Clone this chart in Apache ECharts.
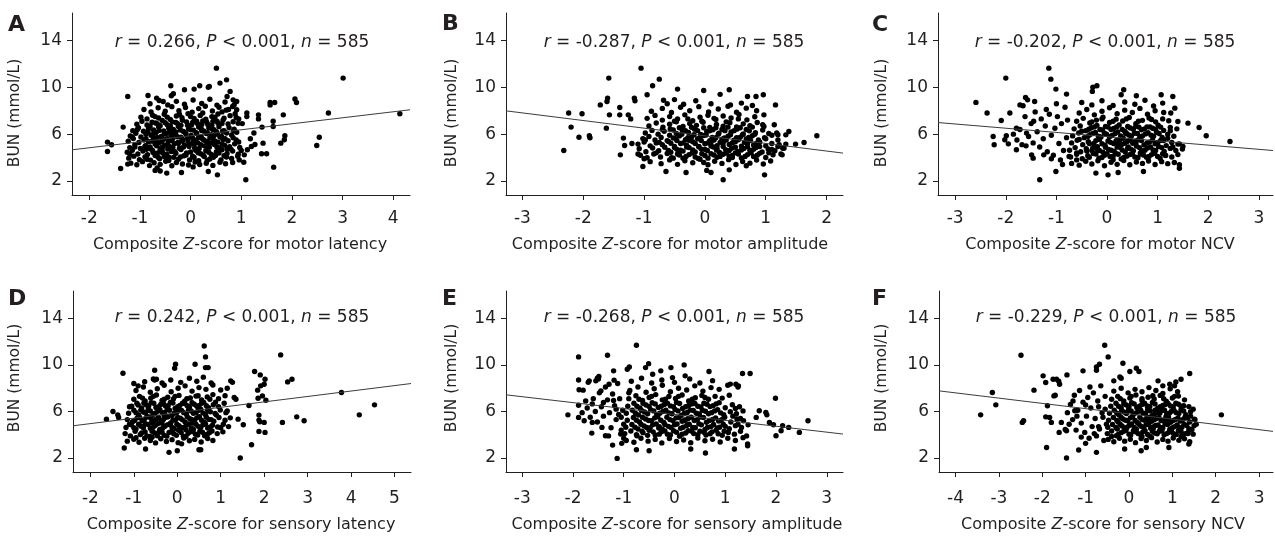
<!DOCTYPE html>
<html><head><meta charset="utf-8">
<script src="https://cdn.jsdelivr.net/npm/echarts@6/dist/echarts.min.js"></script>
<style>html,body{margin:0;padding:0;background:#fff}#c{width:1275px;height:538px}</style>
</head><body><div id="c"></div><script>
const FONT = "'DejaVu Sans',sans-serif";
const INK = '#231f20';

const panelLetters = ['A','B','C','D','E','F'];
const xTitleTail = ['motor latency','motor amplitude','motor NCV','sensory latency','sensory amplitude','sensory NCV'];
const rValues = ['0.266','-0.287','-0.202','0.242','-0.268','-0.229'];
const pText = '< 0.001';
const nValue = '585';
const yTitle = 'BUN (mmol/L)';
const yTicks = [2,6,10,14];
const xTicksA = [-2,-1,0,1,2,3,4];
const xTicksB = [-3,-2,-1,0,1,2];
const xTicksC = [-3,-2,-1,0,1,2,3];
const xTicksD = [-2,-1,0,1,2,3,4,5];
const xTicksE = [-3,-2,-1,0,1,2,3];
const xTicksF = [-4,-3,-2,-1,0,1,2,3];

// regression line end points (x, BUN)
const fitA = [[-2.34,4.66],[4.33,8.08]];
const fitB = [[-3.27,7.99],[2.27,4.38]];
const fitC = [[-3.34,6.99],[3.28,4.6]];
const fitD = [[-2.4,4.77],[5.38,8.4]];
const fitE = [[-3.32,7.43],[3.32,4.06]];
const fitF = [[-4.38,7.77],[3.32,4.29]];

const ptsA = [
[-1.64,5.32],[-1.64,4.52],[-1.56,5.09],[-1.33,6.6],[-1.38,3.07],[-1.24,3.44],[-1.24,9.22],[-0.84,9.3],[0.51,11.64],[0.35,10.0],[0.37,10.08],[0.71,10.64],[-0.39,10.13],[-0.12,9.79],[0.07,9.85],[1.09,2.1],[0.53,2.52],[0.35,2.81],[-0.18,2.72],[-0.47,2.67],[-0.7,2.9],[-0.6,2.85],[1.57,8.7],[1.57,8.5],[1.66,8.7],[1.34,7.65],[1.34,7.3],[1.11,7.8],[1.11,7.5],[1.83,7.65],[1.63,7.1],[1.63,6.65],[1.41,6.6],[1.43,5.23],[1.5,4.32],[1.4,4.32],[1.64,3.18],[1.78,5.23],[1.86,5.86],[1.85,5.52],[2.06,9.0],[2.09,8.7],[2.49,5.03],[2.54,5.74],[2.72,7.8],[3.01,10.79],[4.13,7.74],[1.27,5.12],[1.2,4.95],[1.12,4.66],[1.06,4.23],[0.96,3.8],[0.88,7.74],[0.91,8.08],[0.91,8.79],[0.84,8.93],[0.78,9.65],[0.72,9.22],[0.58,10.36],[0.18,10.13],[-0.67,9.08],[-0.54,8.79],[-0.34,9.45],[-0.38,9.28],[1.18,5.6],[1.25,6.1],[1.02,6.9],[1.05,3.6],
[-1.18,3.52],[-1.06,3.38],[-0.95,3.65],[-0.81,3.31],[-0.72,3.55],[-0.6,3.42],[-0.49,3.68],[-0.37,3.3],[-0.28,3.58],[-0.16,3.45],[-0.04,3.36],[0.09,3.62],[0.18,3.4],[0.31,3.51],[0.44,3.33],[0.58,3.6],[0.69,3.47],[0.83,3.58],[-0.66,3.12],[0.05,3.2],
[-1.22,3.95],[-1.12,4.12],[-1.01,3.82],[-0.9,4.05],[-0.79,3.78],[-0.7,4.18],[-0.61,3.9],[-0.52,4.1],[-0.43,3.75],[-0.33,4.02],[-0.24,3.86],[-0.13,4.15],[-0.02,3.8],[0.07,4.0],[0.16,3.73],[0.27,4.08],[0.38,3.88],[0.49,4.17],[0.6,3.79],[0.71,4.04],[0.81,3.92],[0.93,4.12],[-0.47,3.93],[0.33,3.76],
[-1.25,4.45],[-1.15,4.62],[-1.04,4.3],[-0.94,4.55],[-0.85,4.25],[-0.75,4.6],[-0.66,4.38],[-0.56,4.65],[-0.47,4.28],[-0.38,4.52],[-0.29,4.36],[-0.19,4.68],[-0.09,4.22],[0.0,4.47],[0.1,4.63],[0.2,4.32],[0.3,4.58],[0.41,4.26],[0.51,4.5],[0.62,4.66],[0.72,4.35],[0.83,4.55],[0.94,4.29],[1.0,4.6],[-0.61,4.49],[0.15,4.41],
[-1.2,4.85],[-1.1,5.1],[-0.99,4.78],[-0.89,5.02],[-0.8,4.9],[-0.7,5.16],[-0.6,4.75],[-0.51,5.05],[-0.41,4.92],[-0.32,5.18],[-0.22,4.8],[-0.12,5.08],[-0.03,4.95],[0.07,5.14],[0.17,4.77],[0.27,5.0],[0.37,4.88],[0.47,5.12],[0.57,4.82],[0.67,5.06],[0.77,4.93],[0.87,5.17],[0.97,4.86],[-0.45,4.72],[0.33,5.2],[-0.87,4.7],
[-1.23,5.4],[-1.13,5.62],[-1.02,5.28],[-0.92,5.5],[-0.83,5.35],[-0.73,5.66],[-0.63,5.25],[-0.54,5.55],[-0.44,5.38],[-0.35,5.64],[-0.25,5.3],[-0.15,5.52],[-0.05,5.42],[0.04,5.68],[0.14,5.27],[0.24,5.57],[0.34,5.36],[0.44,5.61],[0.54,5.32],[0.64,5.54],[0.74,5.44],[0.84,5.69],[0.95,5.33],[-0.68,5.46],[0.1,5.48],
[-1.19,5.85],[-1.08,6.08],[-0.98,5.76],[-0.88,6.0],[-0.78,5.9],[-0.68,6.15],[-0.58,5.8],[-0.48,6.05],[-0.39,5.93],[-0.29,6.18],[-0.19,5.74],[-0.09,6.02],[0.01,5.88],[0.11,6.12],[0.21,5.79],[0.31,6.06],[0.41,5.95],[0.51,6.2],[0.61,5.83],[0.71,6.1],[0.81,5.92],[0.91,6.16],[-0.34,5.98],[0.46,5.86],
[-1.14,6.3],[-1.03,6.55],[-0.93,6.25],[-0.83,6.48],[-0.73,6.36],[-0.63,6.62],[-0.53,6.28],[-0.43,6.5],[-0.34,6.4],[-0.24,6.66],[-0.14,6.22],[-0.04,6.45],[0.06,6.34],[0.16,6.6],[0.26,6.27],[0.36,6.52],[0.46,6.38],[0.56,6.64],[0.66,6.3],[0.76,6.56],[0.86,6.42],[0.21,6.47],
[-1.06,6.85],[-0.96,7.1],[-0.86,6.78],[-0.76,7.02],[-0.66,6.9],[-0.56,7.16],[-0.46,6.8],[-0.36,7.05],[-0.26,6.92],[-0.16,7.18],[-0.06,6.75],[0.04,7.0],[0.14,6.88],[0.24,7.12],[0.34,6.82],[0.44,7.08],[0.54,6.95],[0.64,7.2],[0.74,6.86],[0.84,7.06],[0.94,6.92],
[-0.98,7.45],[-0.86,7.3],[-0.75,7.62],[-0.63,7.38],[-0.52,7.7],[-0.4,7.25],[-0.28,7.55],[-0.17,7.4],[-0.05,7.75],[0.07,7.33],[0.19,7.6],[0.3,7.28],[0.42,7.5],[0.54,7.72],[0.66,7.36],[0.78,7.58],[0.9,7.42],
[-0.92,8.1],[-0.78,7.9],[-0.64,8.25],[-0.5,7.95],[-0.37,8.35],[-0.23,8.0],[-0.1,8.28],[0.03,7.88],[0.16,8.18],[0.29,8.38],[0.43,7.98],[0.56,8.3],[0.7,8.05],[0.83,8.36],
[-0.8,8.6],[-0.62,8.88],[-0.45,8.5],[-0.28,8.8],[-0.12,8.55],[0.05,8.92],[0.22,8.62],[0.38,8.98],[0.52,8.48],[0.68,8.75],[0.86,8.52]
];
const denseA = [
[-0.86,3.86],[-0.74,4.44],[-0.64,4.02],[-0.55,4.4],[-0.42,4.0],[-0.31,4.5],[-0.2,4.05],[-0.08,4.4],[0.04,4.12],[0.13,4.55],[0.25,4.2],[0.36,4.45],[0.45,4.02],[0.56,4.38],[0.66,4.15],
[-0.9,4.95],[-0.78,4.72],[-0.67,5.0],[-0.56,4.88],[-0.45,5.12],[-0.35,4.85],[-0.24,5.2],[-0.14,4.9],[-0.02,5.15],[0.08,4.82],[0.2,5.1],[0.32,4.95],[0.42,5.25],[0.52,4.9],[0.62,5.15],[0.72,4.75],
[-0.88,5.6],[-0.77,5.4],[-0.66,5.72],[-0.57,5.35],[-0.46,5.62],[-0.37,5.45],[-0.26,5.78],[-0.17,5.4],[-0.06,5.65],[0.06,5.38],[0.16,5.72],[0.27,5.48],[0.38,5.7],[0.48,5.42],[0.58,5.75],[0.68,5.6],
[-0.84,6.2],[-0.74,5.98],[-0.62,6.32],[-0.52,6.0],[-0.41,6.28],[-0.3,6.05],[-0.2,6.35],[-0.1,6.1],[0.0,6.38],[0.12,6.05],[0.22,6.3],[0.33,6.12],[0.43,6.42],[0.53,6.0],[0.63,6.25],
[-0.8,6.68],[-0.69,6.95],[-0.6,6.72],[-0.5,6.98],[-0.4,6.7],[-0.29,7.0],[-0.19,6.75],[-0.08,7.05],[0.02,6.8],[0.12,7.1],[0.22,6.82],[0.32,7.02],[0.42,6.75],[0.52,7.1],[0.62,6.9],
[-0.7,7.5],[-0.46,7.45],[-0.22,7.7],[0.0,7.5],[0.24,7.8],[0.48,7.45],[0.62,7.9],[0.75,8.1],
[-1.1,4.9],[-1.15,5.75],[-1.05,6.4],[-1.2,4.3],[0.8,4.7],[0.9,5.5],[0.85,6.3],[0.95,7.3]
];

const ptsB = [
[-2.32,4.6],[-2.24,7.8],[-2.2,6.6],[-2.02,7.74],[-2.07,5.74],[-1.9,5.86],[-1.89,5.69],[-1.72,8.5],[-1.61,8.79],[-1.6,9.08],[-1.58,10.79],[-1.57,7.65],[-1.62,6.51],[-1.4,8.28],[-1.4,7.65],[-1.39,4.23],[-1.34,5.66],[-1.32,5.03],[-1.26,7.65],[-1.16,9.08],[-1.15,8.85],[-1.05,11.64],[-0.95,9.36],[-0.86,10.13],[-0.75,10.7],[-1.02,3.24],[-0.64,2.81],[-0.31,2.72],[0.03,2.9],[0.1,2.72],[0.3,2.1],[0.4,2.95],[0.98,2.52],[0.96,9.36],[0.84,9.22],[0.7,9.22],[0.4,9.79],[-0.02,9.73],[-0.45,9.85],[0.97,7.65],[1.14,6.8],[1.16,8.5],[1.33,5.94],[1.38,6.23],[1.49,5.15],[1.63,5.29],[1.84,5.86],[1.27,4.23],[1.2,4.95],[1.3,4.8],[-1.22,7.3],[-1.2,5.2],[-1.1,4.3],[-1.0,3.9],[-0.98,5.5],
[-0.9,3.65],[-0.72,3.48],[-0.58,3.8],[-0.45,3.42],[-0.33,3.72],[-0.2,3.55],[-0.08,3.85],[0.05,3.38],[0.16,3.68],[0.28,3.5],[0.39,3.82],[0.51,3.4],[0.62,3.66],[0.74,3.52],[0.85,3.78],[0.96,3.45],[1.08,3.7],[0.68,3.3],[-0.02,3.58],
[-1.06,4.2],[-0.95,3.98],[-0.84,4.3],[-0.73,4.05],[-0.62,4.35],[-0.52,3.95],[-0.42,4.22],[-0.31,4.1],[-0.21,4.38],[-0.11,3.92],[0.0,4.18],[0.1,4.32],[0.2,4.02],[0.3,4.28],[0.4,4.12],[0.5,4.4],[0.6,3.96],[0.7,4.25],[0.8,4.08],[0.9,4.36],[1.0,4.0],[1.12,4.24],[1.25,4.3],[0.45,4.0],
[-1.08,4.75],[-0.97,4.5],[-0.86,4.82],[-0.76,4.58],[-0.66,4.88],[-0.56,4.45],[-0.46,4.7],[-0.36,4.55],[-0.26,4.85],[-0.16,4.48],[-0.06,4.72],[0.04,4.6],[0.14,4.9],[0.24,4.44],[0.34,4.68],[0.44,4.8],[0.54,4.52],[0.64,4.78],[0.74,4.62],[0.84,4.86],[0.94,4.47],[1.04,4.73],[1.15,4.58],[1.28,4.8],[0.19,4.65],
[-1.1,5.15],[-1.0,5.32],[-0.9,5.0],[-0.8,5.25],[-0.7,5.1],[-0.6,5.38],[-0.5,4.95],[-0.4,5.2],[-0.3,5.05],[-0.2,5.35],[-0.1,4.92],[0.0,5.18],[0.1,5.3],[0.2,5.02],[0.3,5.24],[0.4,5.12],[0.5,5.36],[0.6,4.98],[0.7,5.22],[0.8,5.08],[0.9,5.33],[1.0,5.0],[1.1,5.2],[1.22,5.1],[1.33,5.15],
[-1.02,5.62],[-0.92,5.8],[-0.82,5.5],[-0.72,5.72],[-0.62,5.45],[-0.52,5.68],[-0.42,5.85],[-0.32,5.52],[-0.22,5.76],[-0.12,5.6],[-0.02,5.88],[0.08,5.44],[0.18,5.7],[0.28,5.56],[0.38,5.82],[0.48,5.48],[0.58,5.74],[0.68,5.58],[0.78,5.86],[0.88,5.5],[0.98,5.7],[1.1,5.9],[1.2,5.95],
[-0.98,6.1],[-0.87,6.32],[-0.77,6.0],[-0.67,6.25],[-0.57,6.45],[-0.47,6.05],[-0.37,6.3],[-0.27,6.15],[-0.17,6.42],[-0.07,5.98],[0.03,6.22],[0.13,6.38],[0.23,6.08],[0.33,6.3],[0.43,6.18],[0.53,6.44],[0.63,6.02],[0.73,6.28],[0.83,6.12],[0.95,6.35],[1.05,6.05],[1.18,6.1],
[-0.92,6.7],[-0.8,6.95],[-0.69,6.6],[-0.58,6.85],[-0.47,7.05],[-0.36,6.65],[-0.25,6.9],[-0.14,6.75],[-0.03,7.02],[0.08,6.58],[0.19,6.82],[0.3,6.68],[0.41,6.98],[0.52,6.62],[0.63,6.88],[0.74,6.72],[0.86,7.0],[0.97,6.66],
[-0.95,7.35],[-0.82,7.6],[-0.7,7.2],[-0.58,7.5],[-0.45,7.3],[-0.33,7.65],[-0.2,7.15],[-0.08,7.45],[0.05,7.62],[0.18,7.25],[0.3,7.55],[0.43,7.38],[0.56,7.68],[0.69,7.22],[0.82,7.48],
[-0.88,7.95],[-0.7,8.2],[-0.55,7.85],[-0.4,8.3],[-0.25,8.0],[-0.1,8.35],[0.06,7.9],[0.22,8.15],[0.38,8.38],[0.52,7.88],[0.68,8.22],[0.85,8.0],
[-0.68,8.9],[-0.62,8.6],[-0.35,8.55],[-0.15,8.85],[0.1,8.6],[0.25,9.4],[0.42,8.5],[0.6,8.65],[0.78,8.45],[-0.5,8.95]
];
const denseB = [
[-0.55,3.98],[-0.45,4.3],[-0.36,3.95],[-0.26,4.25],[-0.16,4.05],[-0.05,4.32],[0.05,3.95],[0.15,4.22],[0.25,4.1],[0.35,4.38],[0.45,4.18],[0.55,4.3],[0.66,4.1],[0.76,4.4],[0.86,4.2],
[-0.6,4.6],[-0.5,4.85],[-0.4,4.62],[-0.3,4.9],[-0.2,4.65],[-0.1,4.95],[0.0,4.7],[0.1,4.98],[0.2,4.75],[0.3,4.95],[0.4,4.6],[0.5,4.88],[0.6,4.65],[0.7,4.92],[0.8,4.7],[0.9,4.95],
[-0.56,5.22],[-0.46,5.45],[-0.36,5.25],[-0.26,5.48],[-0.16,5.2],[-0.06,5.45],[0.05,5.25],[0.15,5.5],[0.25,5.3],[0.35,5.5],[0.45,5.25],[0.55,5.52],[0.65,5.3],[0.75,5.48],[0.85,5.22],
[-0.58,5.9],[-0.48,5.62],[-0.38,5.98],[-0.28,5.7],[-0.18,5.95],[-0.08,5.68],[0.02,5.92],[0.12,5.72],[0.22,6.0],[0.32,5.68],[0.42,5.95],[0.52,5.7],[0.62,5.95],[0.72,5.72],[0.82,5.98],
[-0.52,6.35],[-0.42,6.55],[-0.32,6.3],[-0.22,6.58],[-0.12,6.3],[-0.02,6.55],[0.08,6.28],[0.18,6.55],[0.28,6.4],[0.38,6.6],[0.48,6.3],[0.58,6.55],[0.68,6.4],[0.78,6.6],
[-0.5,7.1],[-0.28,7.3],[-0.05,7.1],[0.15,7.35],[0.35,7.05],[0.55,7.3],[-0.7,6.4],[-0.75,5.3],[-0.8,4.4],[1.0,5.6],[1.1,4.7],[0.95,6.8],[1.05,4.4],[1.2,5.5]
];

const ptsC = [
[-2.59,8.71],[-2.37,7.8],[-2.25,5.8],[-2.23,5.09],[-2.09,7.17],[-2.0,10.79],[-1.99,5.86],[-2.02,5.52],[-1.95,5.17],[-1.92,7.8],[-1.79,6.51],[-1.79,4.66],[-1.72,8.5],[-1.66,8.42],[-1.61,9.13],[-1.57,8.93],[-1.59,6.09],[-1.49,4.23],[-1.46,3.95],[-1.43,8.79],[-1.33,2.1],[-1.25,4.23],[-1.15,11.64],[-1.11,10.7],[-1.01,9.85],[-1.01,2.81],[-0.8,9.42],[-0.29,9.65],[-0.28,10.0],[-0.2,10.13],[0.02,2.52],[0.22,2.72],[-0.22,2.67],[0.33,9.79],[0.28,9.36],[0.58,9.28],[0.72,2.81],[1.07,9.36],[1.3,9.22],[1.34,8.22],[1.1,8.65],[1.26,7.8],[1.4,7.08],[1.6,6.94],[1.82,6.57],[1.96,5.86],[2.43,5.37],[1.43,5.17],[1.5,4.95],[1.49,4.72],[1.43,3.38],[1.43,3.09],
[-1.85,6.0],[-1.78,5.5],[-1.72,6.4],[-1.68,5.1],[-1.62,7.5],[-1.55,5.8],[-1.5,6.9],[-1.46,5.25],[-1.42,7.9],[-1.38,6.2],[-1.33,4.9],[-1.3,7.3],[-1.26,5.6],[-1.22,6.7],[-1.18,4.5],[-1.14,7.7],[-1.1,5.9],[-1.06,4.2],[-1.03,6.5],[-0.98,7.5],[-0.95,5.2],[-0.92,3.8],[-0.9,6.9],[-0.86,4.6],[-0.83,8.3],[-0.8,5.7],[-0.78,7.2],[-0.75,4.1],[-1.45,7.1],[-1.6,5.0],[-1.2,8.1],[-1.0,8.6],[-0.88,3.4],[-1.1,3.9],
[-0.7,3.5],[-0.55,3.35],[-0.42,3.68],[-0.3,3.45],[-0.18,3.72],[-0.05,3.3],[0.08,3.6],[0.2,3.42],[0.33,3.75],[0.45,3.38],[0.58,3.62],[0.7,3.5],[0.82,3.7],[0.95,3.4],[1.08,3.65],[1.2,3.48],[1.33,3.58],
[-0.72,4.05],[-0.6,4.28],[-0.49,3.9],[-0.38,4.15],[-0.27,4.35],[-0.16,3.95],[-0.05,4.2],[0.06,4.08],[0.17,4.38],[0.28,3.88],[0.39,4.12],[0.5,4.3],[0.61,3.98],[0.72,4.22],[0.83,4.1],[0.94,4.36],[1.05,3.92],[1.16,4.18],[1.28,4.05],[1.4,4.25],[0.12,3.82],[0.66,4.4],
[-0.74,4.62],[-0.63,4.85],[-0.52,4.5],[-0.41,4.75],[-0.3,4.6],[-0.19,4.92],[-0.08,4.45],[0.03,4.7],[0.14,4.55],[0.25,4.88],[0.36,4.48],[0.47,4.72],[0.58,4.98],[0.69,4.58],[0.8,4.82],[0.91,4.65],[1.02,4.95],[1.13,4.52],[1.25,4.78],[1.36,4.6],[0.42,4.9],[-0.2,4.7],
[-0.7,5.25],[-0.59,5.48],[-0.48,5.1],[-0.37,5.35],[-0.26,5.2],[-0.15,5.55],[-0.04,5.05],[0.07,5.3],[0.18,5.45],[0.29,5.12],[0.4,5.38],[0.51,5.22],[0.62,5.52],[0.73,5.08],[0.84,5.32],[0.95,5.18],[1.06,5.46],[1.17,5.02],[1.28,5.28],[1.4,5.15],[0.22,5.25],[0.56,5.4],
[-0.68,5.85],[-0.56,6.1],[-0.45,5.7],[-0.34,5.95],[-0.23,6.15],[-0.12,5.75],[-0.01,6.0],[0.1,5.88],[0.21,6.18],[0.32,5.65],[0.43,5.92],[0.54,6.08],[0.65,5.78],[0.76,6.02],[0.87,5.9],[0.98,6.16],[1.09,5.72],[1.2,5.98],[1.32,5.82],[0.37,6.05],
[-0.65,6.45],[-0.53,6.7],[-0.42,6.3],[-0.31,6.55],[-0.2,6.75],[-0.09,6.35],[0.02,6.6],[0.13,6.48],[0.24,6.78],[0.35,6.25],[0.46,6.52],[0.57,6.68],[0.68,6.38],[0.79,6.62],[0.9,6.5],[1.01,6.76],[1.12,6.32],[1.25,6.58],[1.38,6.45],
[-0.6,7.1],[-0.47,7.35],[-0.34,6.95],[-0.21,7.2],[-0.08,7.45],[0.05,7.0],[0.18,7.28],[0.31,7.12],[0.44,7.42],[0.57,6.9],[0.7,7.18],[0.83,7.38],[0.96,7.05],[1.1,7.3],[1.22,7.15],
[-0.55,7.8],[-0.4,8.1],[-0.25,7.65],[-0.1,7.95],[0.05,8.25],[0.2,7.75],[0.35,8.05],[0.5,7.85],[0.65,8.2],[0.8,7.7],[0.95,8.0],[1.12,7.85],
[-0.5,8.7],[-0.3,8.5],[-0.1,8.85],[0.12,8.45],[0.35,8.75],[0.55,8.55],[0.75,8.9],[0.92,8.4]
];
const denseC = [
[-0.35,4.02],[-0.22,4.3],[-0.1,4.0],[0.0,4.32],[0.12,4.12],[0.22,4.28],[0.33,4.0],[0.45,4.25],[0.55,4.05],[0.66,4.3],[0.78,4.02],[0.88,4.25],[1.0,4.1],[1.1,4.32],
[-0.4,4.55],[-0.28,4.85],[-0.15,4.6],[-0.03,4.88],[0.08,4.62],[0.2,4.9],[0.3,4.65],[0.41,4.8],[0.52,4.58],[0.64,4.85],[0.75,4.62],[0.86,4.9],[0.96,4.6],[1.08,4.85],
[-0.35,5.2],[-0.22,5.45],[-0.1,5.18],[0.02,5.42],[0.13,5.2],[0.25,5.5],[0.35,5.22],[0.46,5.48],[0.57,5.2],[0.68,5.45],[0.79,5.25],[0.9,5.5],[1.0,5.28],[1.12,5.45],
[-0.38,5.8],[-0.28,6.05],[-0.17,5.82],[-0.05,6.08],[0.05,5.78],[0.16,6.05],[0.27,5.85],[0.38,6.1],[0.48,5.82],[0.6,6.05],[0.7,5.85],[0.81,6.12],[0.92,5.82],[1.03,6.05],
[-0.36,6.42],[-0.25,6.62],[-0.14,6.4],[-0.03,6.65],[0.08,6.4],[0.19,6.62],[0.3,6.4],[0.41,6.65],[0.52,6.42],[0.63,6.6],[0.74,6.45],[0.85,6.62],[0.96,6.4],[1.06,6.6],
[-0.3,7.05],[-0.1,7.3],[0.12,7.1],[0.38,7.3],[0.62,7.1],[0.88,7.25],[-0.55,5.55],[-0.6,4.4],[-0.5,6.25],[1.2,5.65],[1.3,4.9],[1.25,6.3],[-0.6,3.8],[1.15,4.2]
];

const ptsD = [
[-1.63,5.34],[-1.48,6.0],[-1.37,5.71],[-1.35,5.49],[-1.25,9.29],[-1.22,2.86],[-0.73,2.77],[-0.48,8.77],[-0.52,8.7],[-0.52,9.54],[-0.19,2.49],[0.0,2.63],[-0.04,10.06],[-0.06,9.71],[0.41,10.06],[0.62,11.63],[0.65,10.69],[0.65,9.77],[0.71,9.77],[0.54,2.71],[0.5,2.71],[1.45,2.0],[1.71,3.14],[1.65,6.51],[1.91,9.14],[2.02,8.77],[1.78,9.43],[1.85,7.83],[1.92,8.2],[1.96,7.34],[1.86,7.14],[2.04,6.97],[2.0,8.34],[1.88,5.69],[1.88,5.26],[1.9,5.11],[2.0,5.06],[1.88,4.29],[2.02,4.2],[1.31,7.2],[1.35,7.05],[1.23,8.63],[1.27,8.5],[1.4,5.34],[1.52,4.86],[2.38,10.86],[2.42,5.06],[2.54,8.54],[2.64,8.77],[2.75,5.54],[2.92,5.2],[3.78,7.63],[4.19,5.71],[4.54,6.57],
[-1.15,3.45],[-1.0,3.62],[-0.88,3.35],[-0.75,3.7],[-0.62,3.5],[-0.5,3.3],[-0.38,3.66],[-0.25,3.42],[-0.12,3.58],[0.02,3.32],[0.15,3.72],[0.28,3.48],[0.4,3.6],[0.55,3.38],[0.7,3.68],[0.82,3.5],[-0.58,3.78],[0.1,3.22],
[-1.2,4.1],[-1.08,3.9],[-0.97,4.3],[-0.85,4.02],[-0.74,4.25],[-0.63,3.85],[-0.52,4.15],[-0.41,4.35],[-0.3,3.95],[-0.19,4.2],[-0.08,4.08],[0.03,4.38],[0.14,3.88],[0.25,4.12],[0.36,4.28],[0.47,3.98],[0.58,4.22],[0.69,4.05],[0.8,4.32],[0.92,4.1],[1.05,4.25],[-0.45,4.05],
[-1.18,4.62],[-1.06,4.85],[-0.95,4.5],[-0.84,4.75],[-0.73,4.95],[-0.62,4.55],[-0.51,4.8],[-0.4,4.45],[-0.29,4.7],[-0.18,4.9],[-0.07,4.52],[0.04,4.78],[0.15,4.62],[0.26,4.92],[0.37,4.48],[0.48,4.72],[0.59,4.85],[0.7,4.58],[0.81,4.82],[0.93,4.66],[1.06,4.9],[1.18,4.7],[-0.35,4.98],[0.2,4.42],
[-1.15,5.3],[-1.03,5.12],[-0.92,5.45],[-0.81,5.2],[-0.7,5.55],[-0.59,5.05],[-0.48,5.35],[-0.37,5.18],[-0.26,5.5],[-0.15,5.02],[-0.04,5.28],[0.07,5.42],[0.18,5.1],[0.29,5.38],[0.4,5.22],[0.51,5.55],[0.62,5.08],[0.73,5.32],[0.84,5.16],[0.96,5.48],[1.1,5.25],[1.22,5.45],[-0.6,5.4],[0.35,5.0],
[-1.12,5.85],[-1.0,6.1],[-0.89,5.7],[-0.78,5.95],[-0.67,6.15],[-0.56,5.75],[-0.45,6.02],[-0.34,5.88],[-0.23,6.18],[-0.12,5.65],[-0.01,5.92],[0.1,6.08],[0.21,5.78],[0.32,6.05],[0.43,5.9],[0.54,6.2],[0.65,5.72],[0.76,5.98],[0.87,5.82],[0.99,6.12],[1.12,5.9],[-0.3,5.62],
[-1.05,6.45],[-0.93,6.7],[-0.82,6.3],[-0.71,6.55],[-0.6,6.75],[-0.49,6.35],[-0.38,6.6],[-0.27,6.48],[-0.16,6.78],[-0.05,6.25],[0.06,6.52],[0.17,6.68],[0.28,6.38],[0.39,6.62],[0.5,6.5],[0.61,6.78],[0.72,6.32],[0.83,6.58],[0.95,6.42],[1.08,6.7],
[-1.0,7.05],[-0.87,7.3],[-0.74,6.9],[-0.61,7.15],[-0.48,7.42],[-0.35,6.95],[-0.22,7.22],[-0.09,7.08],[0.04,7.38],[0.17,6.88],[0.3,7.16],[0.43,7.32],[0.56,7.0],[0.69,7.25],[0.82,7.45],[0.95,7.1],[1.1,7.35],
[-0.95,7.8],[-0.78,8.1],[-0.62,7.65],[-0.46,7.95],[-0.3,8.25],[-0.14,7.7],[0.02,8.0],[0.18,8.2],[0.34,7.75],[0.5,8.05],[0.66,7.9],[0.82,8.28],[1.0,7.85],[1.15,8.0],
[-0.75,8.55],[-0.55,8.8],[-0.35,8.45],[-0.15,8.7],[0.08,8.5],[0.28,8.85],[0.45,8.6],[0.6,8.95],[0.78,8.45],[-1.0,8.4],[-0.9,8.2]
];
const denseD = [
[-0.95,3.75],[-0.82,4.15],[-0.7,3.9],[-0.58,4.3],[-0.46,3.92],[-0.35,4.22],[-0.24,3.88],[-0.13,4.28],[-0.02,3.95],[0.09,4.2],[0.2,3.85],[0.3,4.25],[0.42,4.05],[0.52,4.3],[0.63,3.92],[0.74,4.18],
[-1.0,4.6],[-0.89,4.9],[-0.78,4.6],[-0.67,4.88],[-0.56,4.62],[-0.45,4.95],[-0.34,4.55],[-0.23,4.85],[-0.12,4.62],[-0.01,4.9],[0.1,4.6],[0.21,4.82],[0.32,4.58],[0.43,4.9],[0.54,4.62],[0.65,4.92],[0.76,4.68],
[-0.98,5.22],[-0.87,5.5],[-0.76,5.3],[-0.65,5.52],[-0.54,5.22],[-0.43,5.48],[-0.32,5.3],[-0.21,5.55],[-0.1,5.25],[0.01,5.48],[0.12,5.28],[0.23,5.55],[0.34,5.3],[0.45,5.45],[0.56,5.25],[0.67,5.5],[0.78,5.3],
[-0.95,5.9],[-0.84,6.12],[-0.73,5.88],[-0.62,6.05],[-0.51,5.85],[-0.4,6.15],[-0.29,5.92],[-0.18,6.1],[-0.07,5.85],[0.04,6.12],[0.15,5.9],[0.26,6.15],[0.37,5.85],[0.48,6.08],[0.59,5.88],[0.7,6.1],
[-0.9,6.55],[-0.77,6.72],[-0.66,6.45],[-0.54,6.7],[-0.43,6.42],[-0.32,6.72],[-0.21,6.5],[-0.1,6.72],[0.01,6.42],[0.12,6.7],[0.23,6.5],[0.34,6.75],[0.45,6.45],[0.56,6.7],[0.67,6.5],
[-0.8,7.15],[-0.55,7.3],[-0.3,7.05],[-0.05,7.3],[0.22,7.1],[0.48,7.35],[0.75,7.05],[-1.1,4.9],[-1.1,6.4],[0.9,5.7],[1.0,4.6],[0.88,6.8],[1.15,6.05]
];

const ptsE = [
[-2.1,5.71],[-1.89,10.69],[-1.89,8.71],[-1.88,7.86],[-1.89,6.54],[-1.89,5.49],[-1.8,7.83],[-1.75,6.91],[-1.68,8.63],[-1.62,5.06],[-1.63,4.14],[-1.55,8.63],[-1.52,8.86],[-1.49,9.0],[-1.45,7.77],[-1.43,4.63],[-1.4,6.77],[-1.36,3.91],[-1.32,10.83],[-1.29,8.34],[-1.22,3.11],[-1.2,9.49],[-1.19,8.69],[-1.13,1.97],[-1.06,4.06],[-1.04,3.26],[-0.93,9.63],[-0.89,9.83],[-0.75,2.71],[-0.75,11.69],[-0.57,9.77],[-0.51,10.11],[-0.5,2.63],[-0.43,9.2],[-0.27,9.49],[-0.07,9.77],[-0.04,8.91],[0.19,10.0],[0.21,9.06],[0.32,2.77],[0.61,2.43],[0.68,9.43],[1.18,2.77],[1.34,9.26],[1.49,9.26],[1.21,8.34],[1.26,8.2],[1.44,3.2],[1.44,3.05],[1.61,5.49],[1.8,5.91],[1.82,5.71],[1.99,7.14],[2.0,3.91],[2.1,4.34],[2.13,4.77],[2.25,4.63],[2.46,4.2],[2.63,5.2],[1.87,5.06],[1.95,4.86],[1.67,6.06],
[-1.82,5.9],[-1.78,5.2],[-1.72,6.3],[-1.66,5.5],[-1.6,7.1],[-1.56,6.0],[-1.52,5.1],[-1.48,7.6],[-1.44,6.4],[-1.4,5.6],[-1.36,8.1],[-1.32,7.0],[-1.28,5.9],[-1.25,4.6],[-1.22,7.5],[-1.18,6.5],[-1.15,5.3],[-1.12,8.4],[-1.08,7.1],[-1.05,4.4],[-1.02,6.1],[-1.0,3.7],[-1.7,8.5],[-1.5,8.8],[-1.3,3.9],[-1.2,6.95],[-1.1,5.75],[-1.62,6.65],
[-0.95,3.5],[-0.8,3.35],[-0.66,3.7],[-0.52,3.45],[-0.38,3.6],[-0.25,3.3],[-0.1,3.68],[0.04,3.42],[0.18,3.55],[0.32,3.32],[0.46,3.72],[0.6,3.48],[0.75,3.62],[0.9,3.38],[1.05,3.7],[1.2,3.5],[1.35,3.75],
[-0.98,4.1],[-0.86,4.32],[-0.74,3.92],[-0.62,4.18],[-0.5,4.38],[-0.38,3.98],[-0.26,4.25],[-0.14,4.05],[-0.02,4.35],[0.1,3.88],[0.22,4.15],[0.34,4.3],[0.46,4.0],[0.58,4.22],[0.7,4.08],[0.82,4.38],[0.94,3.95],[1.06,4.2],[1.18,4.05],[1.3,4.3],[1.42,3.9],
[-0.96,4.65],[-0.84,4.88],[-0.72,4.5],[-0.6,4.75],[-0.48,4.6],[-0.36,4.92],[-0.24,4.48],[-0.12,4.72],[0.0,4.85],[0.12,4.55],[0.24,4.8],[0.36,4.62],[0.48,4.95],[0.6,4.45],[0.72,4.7],[0.84,4.58],[0.96,4.9],[1.08,4.52],[1.2,4.78],[1.32,4.62],[1.45,4.85],[-0.3,4.7],
[-0.93,5.25],[-0.81,5.48],[-0.69,5.1],[-0.57,5.35],[-0.45,5.2],[-0.33,5.55],[-0.21,5.05],[-0.09,5.3],[0.03,5.45],[0.15,5.15],[0.27,5.4],[0.39,5.22],[0.51,5.52],[0.63,5.08],[0.75,5.32],[0.87,5.18],[0.99,5.5],[1.11,5.1],[1.23,5.35],[1.36,5.2],[0.2,5.28],
[-0.95,5.85],[-0.83,6.1],[-0.71,5.7],[-0.59,5.95],[-0.47,6.15],[-0.35,5.75],[-0.23,6.0],[-0.11,5.88],[0.01,6.18],[0.13,5.65],[0.25,5.92],[0.37,6.08],[0.49,5.78],[0.61,6.02],[0.73,5.9],[0.85,6.16],[0.97,5.72],[1.1,5.98],[1.22,5.8],[1.35,6.05],
[-0.92,6.45],[-0.8,6.7],[-0.68,6.3],[-0.56,6.55],[-0.44,6.75],[-0.32,6.35],[-0.2,6.6],[-0.08,6.48],[0.04,6.78],[0.16,6.25],[0.28,6.52],[0.4,6.68],[0.52,6.38],[0.64,6.62],[0.76,6.5],[0.88,6.76],[1.0,6.32],[1.14,6.58],[1.28,6.4],
[-0.9,7.1],[-0.76,7.35],[-0.63,6.95],[-0.5,7.2],[-0.37,7.45],[-0.24,7.0],[-0.11,7.28],[0.02,7.12],[0.15,7.42],[0.28,6.9],[0.41,7.18],[0.54,7.38],[0.67,7.05],[0.8,7.3],[0.94,7.15],[1.08,7.4],
[-0.88,7.8],[-0.72,8.1],[-0.56,7.65],[-0.4,7.95],[-0.24,8.25],[-0.08,7.7],[0.08,8.0],[0.24,7.85],[0.4,8.2],[0.56,7.75],[0.72,8.05],[0.88,7.9],[1.05,8.25],
[-0.85,8.6],[-0.65,8.85],[-0.45,8.45],[-0.25,8.7],[0.0,8.5],[0.3,8.8],[0.5,8.45],[0.75,8.65],[1.1,8.35],[1.25,8.1]
];
const denseE = [
[-0.75,4.0],[-0.64,4.3],[-0.53,3.95],[-0.42,4.25],[-0.3,4.05],[-0.19,4.32],[-0.08,3.98],[0.04,4.22],[0.15,4.05],[0.27,4.35],[0.38,4.1],[0.5,4.3],[0.62,3.98],[0.74,4.25],[0.86,4.08],[0.98,4.3],
[-0.78,4.65],[-0.66,4.9],[-0.55,4.62],[-0.43,4.85],[-0.31,4.58],[-0.19,4.88],[-0.07,4.62],[0.05,4.92],[0.17,4.65],[0.29,4.9],[0.41,4.6],[0.53,4.85],[0.65,4.62],[0.77,4.88],[0.89,4.65],[1.0,4.72],
[-0.75,5.25],[-0.63,5.5],[-0.51,5.22],[-0.39,5.45],[-0.27,5.25],[-0.15,5.5],[-0.03,5.2],[0.09,5.48],[0.21,5.22],[0.33,5.5],[0.45,5.3],[0.57,5.48],[0.69,5.22],[0.81,5.45],[0.93,5.3],
[-0.77,5.85],[-0.65,6.08],[-0.53,5.8],[-0.41,6.05],[-0.29,5.85],[-0.17,6.1],[-0.05,5.8],[0.07,6.05],[0.19,5.82],[0.31,6.12],[0.43,5.85],[0.55,6.1],[0.67,5.8],[0.79,6.05],[0.91,5.88],
[-0.74,6.45],[-0.62,6.7],[-0.5,6.42],[-0.38,6.65],[-0.26,6.45],[-0.14,6.72],[-0.02,6.42],[0.1,6.68],[0.22,6.4],[0.34,6.65],[0.46,6.45],[0.58,6.7],[0.7,6.42],[0.82,6.65],
[-0.7,7.05],[-0.45,7.3],[-0.18,7.05],[0.08,7.3],[0.35,7.05],[0.6,7.2],[-1.05,5.5],[-1.15,6.2],[-1.0,4.9],[1.15,5.6],[1.25,4.9],[1.2,6.25],[1.3,5.4],[-0.9,7.6]
];

const ptsF = [
[-3.42,5.71],[-3.15,7.63],[-3.07,6.57],[-2.49,10.83],[-2.46,5.06],[-2.43,5.2],[-2.19,7.83],[-1.98,9.06],[-1.9,2.91],[-1.92,8.49],[-1.88,6.49],[-1.92,5.54],[-1.83,5.49],[-1.79,5.06],[-1.75,8.77],[-1.67,8.77],[-1.73,7.34],[-1.7,7.4],[-1.6,8.34],[-1.62,8.6],[-1.56,5.06],[-1.61,4.2],[-1.44,4.34],[-1.47,4.45],[-1.43,9.14],[-1.44,2.0],[-1.16,2.69],[-1.29,6.91],[-1.25,6.06],[-1.06,9.49],[-1.0,3.26],[-0.75,2.49],[-0.75,9.54],[-0.75,9.83],[-0.68,10.06],[-0.56,11.69],[-0.48,10.69],[-0.21,8.97],[-0.18,8.86],[-0.35,8.63],[-0.14,10.14],[0.17,9.71],[0.23,9.43],[0.02,9.43],[-0.1,2.77],[0.28,2.63],[0.4,2.91],[0.92,2.91],[1.2,8.77],[1.4,9.26],[1.36,4.11],[1.38,3.2],[1.55,4.91],[1.51,5.34],[2.13,5.71],[1.05,8.2],[1.08,8.54],[0.94,8.34],[0.78,8.2],[0.67,8.63],
[-1.42,5.9],[-1.38,4.9],[-1.35,6.6],[-1.3,5.3],[-1.26,7.4],[-1.22,4.4],[-1.18,6.1],[-1.14,7.8],[-1.1,5.0],[-1.06,6.8],[-1.02,4.2],[-0.98,5.6],[-0.95,7.2],[-0.92,3.7],[-0.88,6.3],[-0.85,4.7],[-0.82,7.6],[-0.78,5.4],[-0.75,3.9],[-0.72,6.9],[-0.68,4.5],[-0.65,8.2],[-0.62,5.9],[-0.58,3.5],[-0.55,7.3],[-0.52,4.9],[-1.2,5.6],[-1.0,6.55],[-0.8,4.1],[-1.1,3.8],[-0.9,8.1],[-0.7,6.4],
[-0.48,3.6],[-0.35,3.4],[-0.22,3.7],[-0.1,3.45],[0.03,3.62],[0.15,3.32],[0.28,3.68],[0.4,3.5],[0.52,3.75],[0.65,3.38],[0.78,3.6],[0.9,3.45],[1.02,3.72],[1.15,3.52],[1.28,3.65],[1.4,3.4],
[-0.5,4.1],[-0.4,4.32],[-0.29,3.92],[-0.18,4.18],[-0.07,4.38],[0.04,3.98],[0.15,4.25],[0.26,4.05],[0.37,4.35],[0.48,3.88],[0.59,4.15],[0.7,4.3],[0.81,4.0],[0.92,4.22],[1.03,4.08],[1.14,4.38],[1.25,3.95],[1.36,4.2],[1.48,4.05],[0.3,3.85],
[-0.49,4.65],[-0.38,4.88],[-0.27,4.5],[-0.16,4.75],[-0.05,4.6],[0.06,4.92],[0.17,4.48],[0.28,4.72],[0.39,4.85],[0.5,4.55],[0.61,4.8],[0.72,4.62],[0.83,4.95],[0.94,4.45],[1.05,4.7],[1.16,4.58],[1.27,4.9],[1.38,4.52],[1.5,4.78],[0.55,4.68],[0.0,4.8],
[-0.47,5.25],[-0.36,5.48],[-0.25,5.1],[-0.14,5.35],[-0.03,5.2],[0.08,5.55],[0.19,5.05],[0.3,5.3],[0.41,5.45],[0.52,5.15],[0.63,5.4],[0.74,5.22],[0.85,5.52],[0.96,5.08],[1.07,5.32],[1.18,5.18],[1.29,5.5],[1.4,5.1],[1.52,5.3],[0.45,5.2],[0.9,5.3],
[-0.45,5.85],[-0.34,6.1],[-0.23,5.7],[-0.12,5.95],[-0.01,6.15],[0.1,5.75],[0.21,6.0],[0.32,5.88],[0.43,6.18],[0.54,5.65],[0.65,5.92],[0.76,6.08],[0.87,5.78],[0.98,6.02],[1.09,5.9],[1.2,6.16],[1.31,5.72],[1.42,5.98],[0.6,5.82],
[-0.42,6.45],[-0.3,6.7],[-0.18,6.3],[-0.06,6.55],[0.06,6.75],[0.18,6.35],[0.3,6.6],[0.42,6.48],[0.54,6.78],[0.66,6.25],[0.78,6.52],[0.9,6.68],[1.02,6.38],[1.14,6.62],[1.26,6.5],[1.38,6.42],
[-0.4,7.05],[-0.26,7.3],[-0.12,6.9],[0.02,7.15],[0.16,7.42],[0.3,6.95],[0.44,7.22],[0.58,7.08],[0.72,7.38],[0.86,6.88],[1.0,7.16],[1.14,7.32],[1.28,7.0],
[-0.35,7.75],[-0.18,8.0],[-0.02,7.6],[0.14,7.9],[0.3,7.7],[0.46,8.05],[0.62,7.8],[0.78,7.55],[0.95,7.95],[1.12,7.7]
];
const denseF = [
[-0.25,4.02],[-0.12,4.3],[0.0,4.05],[0.1,4.32],[0.21,4.1],[0.32,4.25],[0.43,4.02],[0.54,4.3],[0.65,4.08],[0.76,4.35],[0.87,4.1],[0.98,4.32],[1.09,4.02],[1.2,4.28],[1.3,4.1],
[-0.3,4.62],[-0.2,4.88],[-0.1,4.6],[0.02,4.85],[0.12,4.62],[0.23,4.9],[0.34,4.62],[0.45,4.88],[0.56,4.55],[0.67,4.85],[0.78,4.6],[0.89,4.88],[1.0,4.6],[1.11,4.85],[1.22,4.65],[1.33,4.8],
[-0.28,5.22],[-0.18,5.48],[-0.08,5.25],[0.03,5.45],[0.14,5.22],[0.25,5.5],[0.36,5.25],[0.47,5.5],[0.58,5.28],[0.69,5.48],[0.8,5.25],[0.91,5.5],[1.02,5.22],[1.13,5.45],[1.24,5.3],[1.35,5.45],
[-0.28,5.85],[-0.17,6.08],[-0.06,5.82],[0.05,6.05],[0.16,5.88],[0.27,6.12],[0.38,5.82],[0.49,6.05],[0.6,6.1],[0.71,5.85],[0.82,6.1],[0.93,5.85],[1.04,6.08],[1.15,5.82],[1.26,6.05],
[-0.24,6.45],[-0.12,6.65],[0.0,6.42],[0.12,6.65],[0.24,6.45],[0.36,6.7],[0.48,6.42],[0.6,6.65],[0.72,6.4],[0.84,6.6],[0.96,6.48],[1.08,6.7],[1.2,6.45],
[-0.2,7.1],[0.05,7.3],[0.3,7.1],[0.55,7.35],[0.8,7.1],[1.05,7.3],[-0.6,5.5],[-0.7,4.7],[-0.55,6.2],[1.42,5.6],[1.45,4.45],[1.48,6.2],[-0.4,3.85],[1.2,3.85]
];

const pts = [ptsA.concat(denseA), ptsB.concat(denseB), ptsC.concat(denseC), ptsD.concat(denseD), ptsE.concat(denseE), ptsF.concat(denseF)];
const fits = [fitA, fitB, fitC, fitD, fitE, fitF];
const xTicks = [xTicksA, xTicksB, xTicksC, xTicksD, xTicksE, xTicksF];

// layout
const grids = [[72,13,338,182],[506,13,337,182],[938,13,335,182],[73,291,338,181],[506,291,337,181],[939,291,334,181]];
const xRange = [[-2.34,4.33],[-3.27,2.27],[-3.34,3.28],[-2.4,5.38],[-3.32,3.32],[-4.38,3.32]];
const labelMargin = [15,15,15,18,18,18];
const letterPos = [[8,25],[442,24],[872,25],[8,299],[442,299],[872,299]];
const annPos = [[242,43],[674,43],[1105,43],[242,318],[674,318],[1106,318]];
const xTitlePos = [[240,245],[670,245],[1100,245],[241,525],[677,525],[1103,525]];
const yTitlePos = [[15,113],[452,113],[882,113],[15,378],[452,378],[882,378]];

const FS = 17;
const option = {animation:false, backgroundColor:'#ffffff', grid:[], xAxis:[], yAxis:[], series:[], graphic:[]};
for (let i = 0; i < 6; i++) {
  const [l,t,w,h] = grids[i];
  option.grid.push({left:l, top:t, width:w, height:h});
  option.xAxis.push({type:'value', gridIndex:i, min:xRange[i][0], max:xRange[i][1],
    axisLine:{show:true, onZero:false, lineStyle:{color:INK, width:1}},
    axisTick:{show:true, length:5, customValues:xTicks[i], lineStyle:{color:INK, width:1}},
    axisLabel:{show:true, customValues:xTicks[i], margin:labelMargin[i], fontSize:FS, fontFamily:FONT, color:INK},
    splitLine:{show:false}});
  option.yAxis.push({type:'value', gridIndex:i, min:0.8, max:16.35,
    axisLine:{show:true, onZero:false, lineStyle:{color:INK, width:1}},
    axisTick:{show:true, length:5, customValues:yTicks, lineStyle:{color:INK, width:1}},
    axisLabel:{show:true, customValues:yTicks, margin:10, fontSize:FS, fontFamily:FONT, color:INK},
    splitLine:{show:false}});
  option.series.push({type:'scatter', xAxisIndex:i, yAxisIndex:i, data:pts[i], symbol:'circle', symbolSize:5.4,
    itemStyle:{color:'#000', opacity:1}, silent:true, large:false});
  option.series.push({type:'line', xAxisIndex:i, yAxisIndex:i, data:fits[i], symbol:'none', silent:true,
    lineStyle:{color:'#3c3c3c', width:1}});
  const it = {fontStyle:'italic', fontSize:FS, fontFamily:FONT, fill:INK};
  option.graphic.push({type:'text', x:letterPos[i][0], y:letterPos[i][1], silent:true,
    style:{text:panelLetters[i], fontSize:22, fontWeight:'bold', fontFamily:FONT, fill:INK, align:'left', verticalAlign:'middle'}});
  option.graphic.push({type:'text', x:annPos[i][0], y:annPos[i][1], silent:true,
    style:{text:'{i|r} = ' + rValues[i] + ', {i|P} ' + pText + ', {i|n} = ' + nValue,
      rich:{i:it}, fontSize:FS, fontFamily:FONT, fill:INK, align:'center', verticalAlign:'middle'}});
  const it2 = {fontStyle:'italic', fontSize:16, fontFamily:FONT, fill:INK};
  option.graphic.push({type:'text', x:xTitlePos[i][0], y:xTitlePos[i][1], silent:true,
    style:{text:'Composite {i|Z}-score for ' + xTitleTail[i], rich:{i:it2},
      fontSize:16, fontFamily:FONT, fill:INK, align:'center', verticalAlign:'middle'}});
  option.graphic.push({type:'text', x:yTitlePos[i][0], y:yTitlePos[i][1], rotation:Math.PI/2, silent:true,
    style:{text:yTitle, fontSize:15.5, fontFamily:FONT, fill:INK, align:'center', verticalAlign:'middle'}});
}
const chart = echarts.init(document.getElementById('c'), null, {renderer:'canvas'});
chart.setOption(option);
</script></body></html>
